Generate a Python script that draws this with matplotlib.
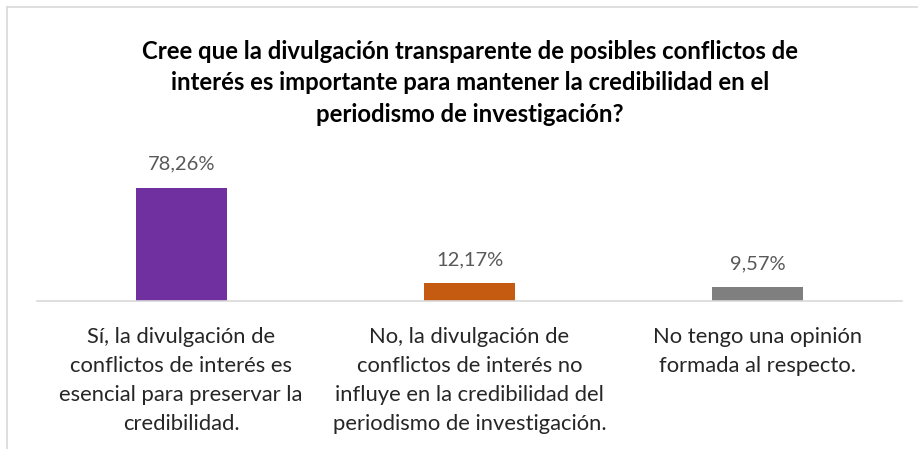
import matplotlib
matplotlib.use("Agg")
import matplotlib.pyplot as plt
from matplotlib.lines import Line2D

categories = [
    "Sí, la divulgación de\nconflictos de interés es\nesencial para preservar la\ncredibilidad.",
    "No, la divulgación de\nconflictos de interés no\ninfluye en la credibilidad del\nperiodismo de investigación.",
    "No tengo una opinión\nformada al respecto.",
]
values = [78.26, 12.17, 9.57]
value_labels = ["78,26%", "12,17%", "9,57%"]
colors = ["#7030A0", "#C55A11", "#7F7F7F"]
title = ("Cree que la divulgación transparente de posibles conflictos de\n"
         "interés es importante para mantener la credibilidad en el\n"
         "periodismo de investigación?")

W, H = 918, 449
fig = plt.figure(figsize=(W / 100, H / 100), dpi=100)
plt.rcParams['font.family'] = ['Lato', 'DejaVu Sans']

# axes: x 37..902, baseline y=301, top y=171 for ylim 90
ax = fig.add_axes([37 / W, 1 - 301 / H, 865 / W, 130 / H])
x = list(range(len(values)))
ax.bar(x, values, width=0.316, color=colors)
ax.set_xlim(-0.5, 2.5)
ax.set_ylim(0, 90)
for s in ["top", "right", "left"]:
    ax.spines[s].set_visible(False)
ax.spines["bottom"].set_color("#D9D9D9")
ax.spines["bottom"].set_linewidth(1.2)
ax.set_yticks([])
ax.set_xticks(x)
ax.set_xticklabels(categories, fontsize=15.8, color="#262626", linespacing=1.56,
                   va="top")
ax.tick_params(axis="x", length=0, pad=19)
for xi, v, lab in zip(x, values, value_labels):
    ax.annotate(lab, (xi, v), xytext=(0, 17), textcoords="offset points",
                ha="center", va="center", fontsize=14.5, color="#595959")

fig.text(470 / W, 1 - 83 / H, title, ha="center", va="center", fontsize=17.2,
         fontweight="bold", color="#000000", linespacing=1.45)

# chart border (only left and top edges visible in the crop)
fig.add_artist(Line2D([7 / W, 7 / W], [0, 1 - 7 / H], transform=fig.transFigure,
                      color="#D9D9D9", lw=1.2))
fig.add_artist(Line2D([7 / W, 1], [1 - 7 / H, 1 - 7 / H], transform=fig.transFigure,
                      color="#D9D9D9", lw=1.2))

fig.savefig("out.png", dpi=100, facecolor="white")
